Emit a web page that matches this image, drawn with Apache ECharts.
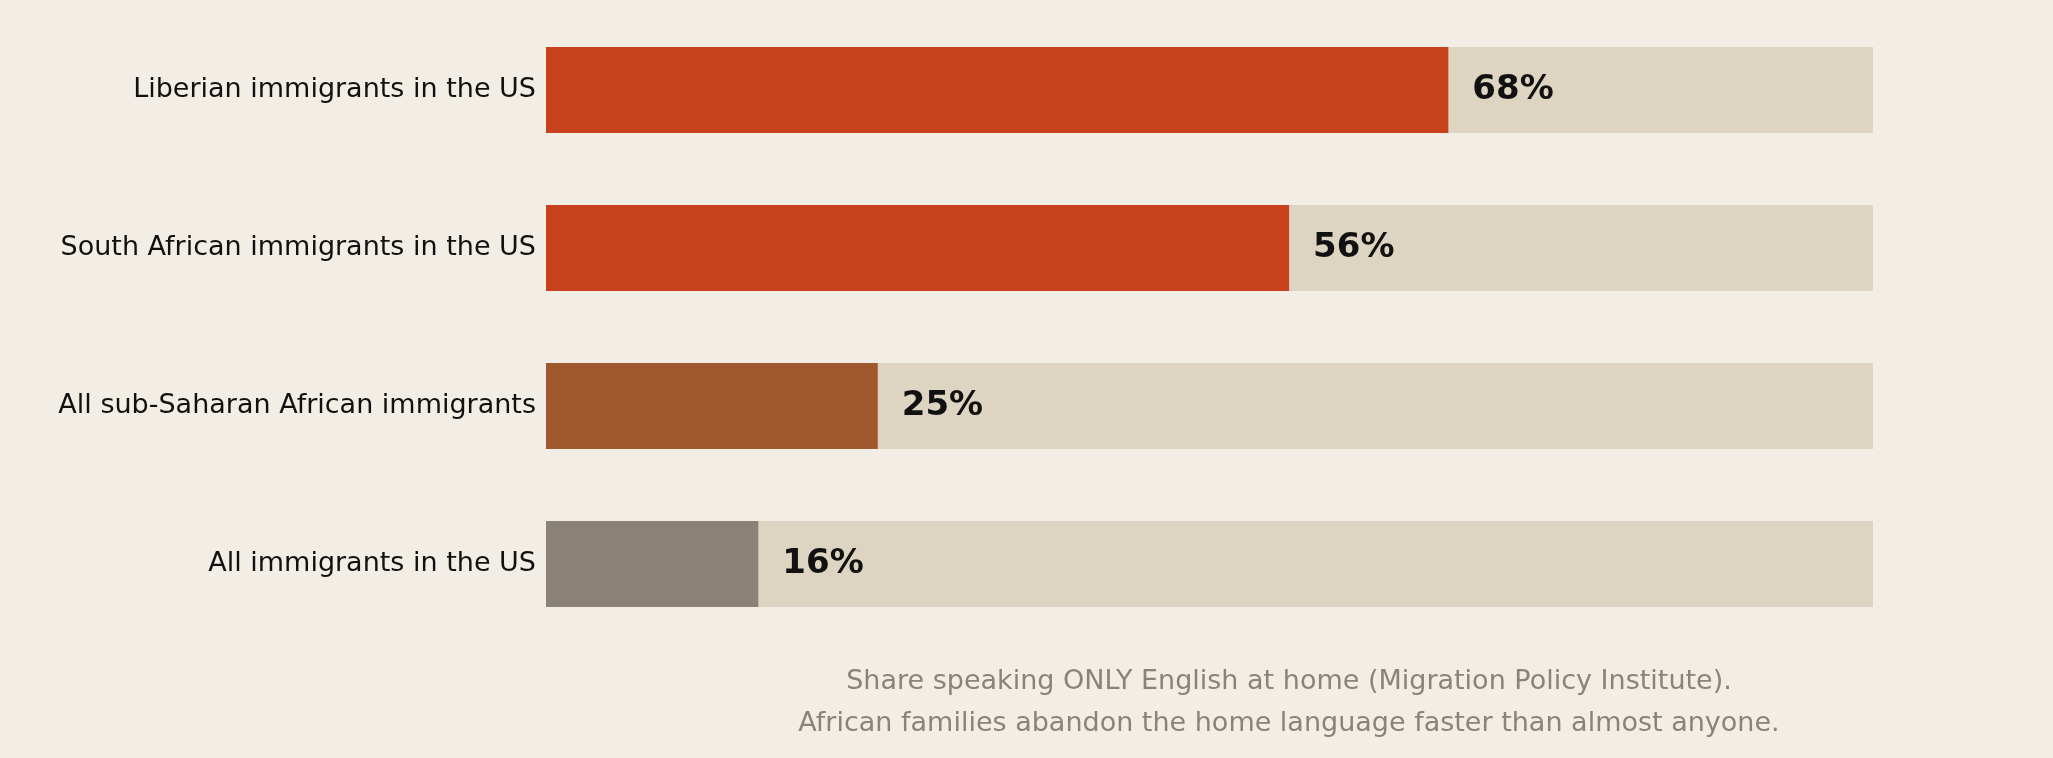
<!DOCTYPE html>
<html><head><meta charset="utf-8">
<script src="https://cdn.jsdelivr.net/npm/echarts@6/dist/echarts.min.js"></script>
<style>html,body{margin:0;padding:0;background:#f2eee6}#c{width:2053px;height:758px}</style>
</head><body><div id="c"></div>
<script>
const categories = ["Liberian immigrants in the US","South African immigrants in the US","All sub-Saharan African immigrants","All immigrants in the US"];
const values = [68, 56, 25, 16];
const barColors = ["#c7421b","#c7421b","#a0582c","#8b8277"];
const footer = ["Share speaking ONLY English at home (Migration Policy Institute).","African families abandon the home language faster than almost anyone."];
const chart = echarts.init(document.getElementById('c'));
chart.setOption({
  backgroundColor:'#f2eee6',
  animation:false,
  grid:{left:546,right:180,top:11,bottom:115},
  xAxis:{type:'value',min:0,max:100,show:false},
  yAxis:{type:'category',data:categories,inverse:true,axisLine:{show:false},axisTick:{show:false},
    axisLabel:{fontFamily:'DejaVu Sans',fontSize:27,color:'#111',margin:10}},
  series:[
    {type:'bar',data:categories.map(()=>100),barWidth:86,itemStyle:{color:'#ddd4c2'},silent:true},
    {type:'bar',data:values.map((v,i)=>({value:v,itemStyle:{color:barColors[i]}})),barWidth:86,barGap:'-100%',
     label:{show:true,position:'right',distance:24,formatter:'{c}%',fontFamily:'DejaVu Sans',fontWeight:'bold',fontSize:34,color:'#111'}}
  ],
  graphic:[
    {type:'text',left:'center',top:0,style:{}} 
  ].slice(0,0).concat(footer.map((t,i)=>({type:'text',x:1289,y:682+i*42,style:{text:t,fill:'#8a8377',fontFamily:'DejaVu Sans',fontSize:27,textAlign:'center',textVerticalAlign:'middle'}})))
});
</script></body></html>
